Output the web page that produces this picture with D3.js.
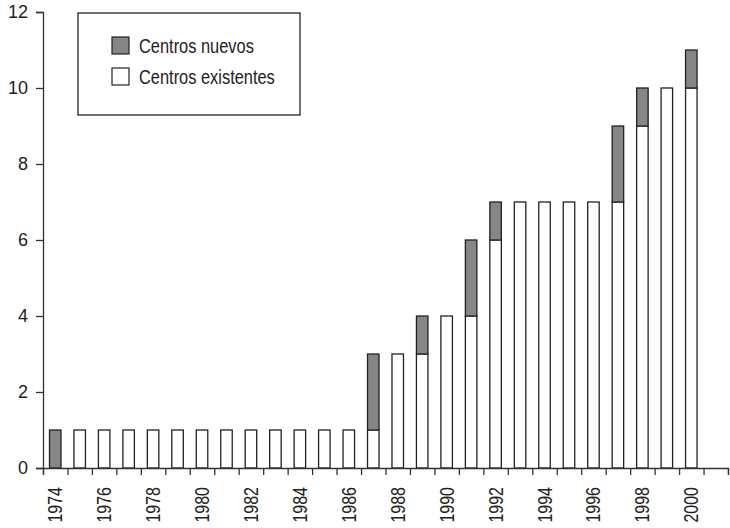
<!DOCTYPE html>
<html>
<head>
<meta charset="utf-8">
<script src="https://cdn.jsdelivr.net/npm/d3@7"></script>
<style>
  body { margin: 0; background: #fff; }
  svg { display: block; }
</style>
</head>
<body>
<div id="chart"></div>
<script>
// data
const years = d3.range(1974, 2001)
const existentes = [0, 1, 1, 1, 1, 1, 1, 1, 1, 1, 1, 1, 1, 1, 3, 3, 4, 4, 6, 7, 7, 7, 7, 7, 9, 10, 10]
const nuevos     = [1, 0, 0, 0, 0, 0, 0, 0, 0, 0, 0, 0, 0, 2, 0, 1, 0, 2, 1, 0, 0, 0, 0, 2, 1, 0, 1]
const yTicks = [0, 2, 4, 6, 8, 10, 12]
const labelYears = years.filter(y => y % 2 === 0)
const legendLabels = ['Centros nuevos', 'Centros existentes']

const width = 730, height = 528
const plotL = 43, plotR = 728, plotT = 12, plotB = 468
const axisColor = '#333'
const grey = '#868686'
const font = '"Liberation Sans", Arial, sans-serif'

const svg = d3.select('#chart').append('svg')
  .attr('width', width)
  .attr('height', height)

// squeeze text to look like a condensed face
function narrow(sel, k) {
  sel.each(function() {
    const w = this.getComputedTextLength()
    d3.select(this).attr('textLength', w * k).attr('lengthAdjust', 'spacingAndGlyphs')
  })
}

const x = d3.scaleLinear().domain([1973.5, 2001.5]).range([plotL, plotR])
const y = d3.scaleLinear().domain([0, 12]).range([plotB, plotT])
const barW = 11.5

// bars
const rows = years.map((yr, i) => ({ year: yr, ex: existentes[i], nu: nuevos[i] }))
const g = svg.append('g')

g.selectAll('rect.ex')
  .data(rows.filter(d => d.ex > 0))
  .enter().append('rect')
  .attr('x', d => x(d.year) - barW / 2)
  .attr('y', d => y(d.ex))
  .attr('width', barW)
  .attr('height', d => y(0) - y(d.ex))
  .attr('fill', '#fff')
  .attr('stroke', '#222')
  .attr('stroke-width', 1.3)

g.selectAll('rect.nu')
  .data(rows.filter(d => d.nu > 0))
  .enter().append('rect')
  .attr('x', d => x(d.year) - barW / 2)
  .attr('y', d => y(d.ex + d.nu))
  .attr('width', barW)
  .attr('height', d => y(d.ex) - y(d.ex + d.nu))
  .attr('fill', grey)
  .attr('stroke', '#222')
  .attr('stroke-width', 1.3)

// y axis
const yAxis = svg.append('g')
  .attr('transform', `translate(${plotL},0)`)
  .call(d3.axisLeft(y).tickValues(yTicks).tickSize(7).tickPadding(8))
yAxis.select('.domain').attr('stroke', axisColor).attr('stroke-width', 1.3)
yAxis.selectAll('line').attr('stroke', axisColor).attr('stroke-width', 1.3)
yAxis.selectAll('text')
  .attr('fill', '#222')
  .style('font-family', font)
  .style('font-size', '18px')

// x axis ticks between bars
const xAxis = svg.append('g')
  .attr('transform', `translate(0,${plotB})`)
  .call(d3.axisBottom(x).tickValues(d3.range(1973.5, 2002, 1)).tickSize(7).tickFormat(''))
xAxis.select('.domain').attr('stroke', axisColor).attr('stroke-width', 1.3)
xAxis.selectAll('line').attr('stroke', axisColor).attr('stroke-width', 1.3)

// year labels, rotated
svg.append('g')
  .selectAll('text')
  .data(labelYears)
  .enter().append('text')
  .attr('transform', d => `translate(${x(d) + 7},${plotB + 19}) rotate(-90)`)
  .attr('text-anchor', 'end')
  .attr('fill', '#222')
  .style('font-family', font)
  .style('font-size', '20px')
  .text(d => d)
  .call(narrow, 0.8)

// legend
const lg = svg.append('g')
lg.append('rect')
  .attr('x', 78).attr('y', 13)
  .attr('width', 222).attr('height', 102)
  .attr('fill', '#fff')
  .attr('stroke', '#111')
  .attr('stroke-width', 1.2)

const items = lg.selectAll('g.item')
  .data(legendLabels)
  .enter().append('g')
  .attr('transform', (d, i) => `translate(112,${37 + i * 31})`)
items.append('rect')
  .attr('width', 17).attr('height', 17)
  .attr('fill', (d, i) => i === 0 ? grey : '#fff')
  .attr('stroke', '#222')
  .attr('stroke-width', 1.2)
items.append('text')
  .attr('x', 27).attr('y', 16)
  .attr('fill', '#222')
  .style('font-family', font)
  .style('font-size', '20px')
  .text(d => d)
  .call(narrow, 0.82)
</script>
</body>
</html>
